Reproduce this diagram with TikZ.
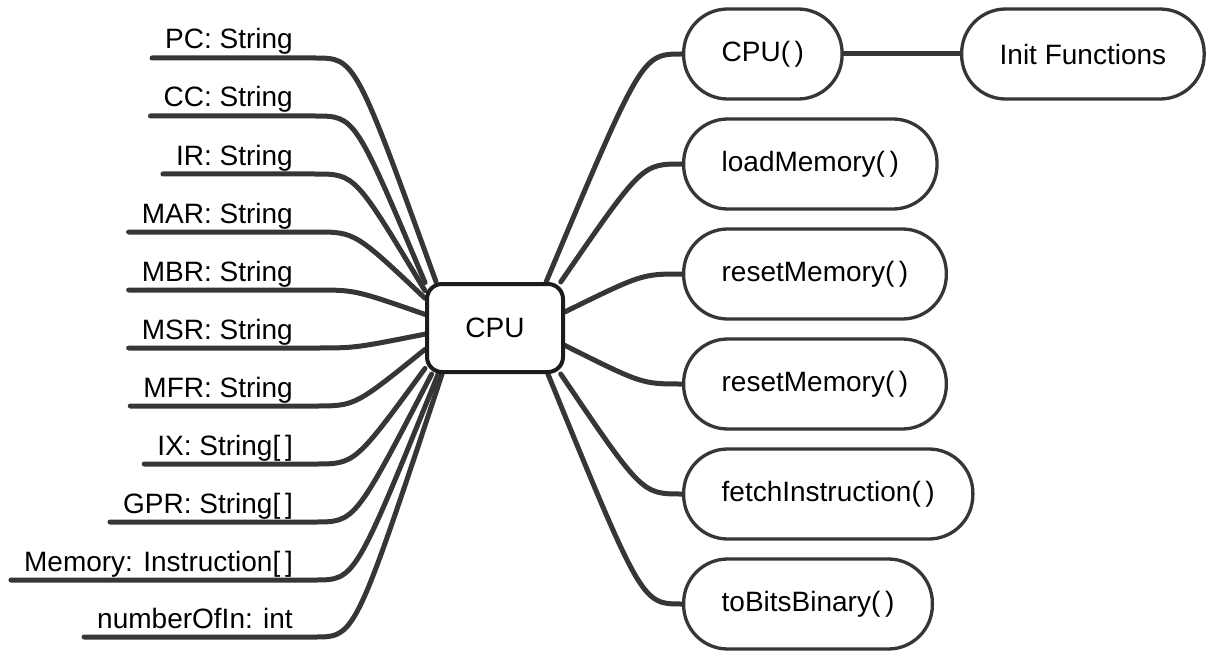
\documentclass[tikz,border=0pt]{standalone}
\usepackage{fontspec}
\setmainfont{Liberation Sans}
\usepackage{tikz}
\usetikzlibrary{positioning,backgrounds}
\usepackage{xcolor}
\definecolor{WireG}{RGB}{54, 54, 54}
\definecolor{EdgeD}{RGB}{28, 28, 28}

\tikzset{
  wire/.style={WireG,line width=5pt,line cap=round},
  leaf/.style={inner sep=0pt,anchor=base east,font=\fontsize{28}{32}\selectfont},
  hub/.style={draw=EdgeD,line width=4pt,fill=white,rounded corners=15pt,
              minimum width=136pt,minimum height=88pt,font=\fontsize{28}{32}\selectfont},
  pill/.style={draw=WireG,line width=3.3pt,fill=white,rounded corners=44pt,
               minimum height=90pt,inner xsep=38pt,anchor=west,font=\fontsize{28}{32}\selectfont}
}

\begin{document}
\begin{tikzpicture}[x=1pt,y=-1pt]
        \useasboundingbox (0,0) rectangle (1216,658);
        \node[hub] (cpu) at (495,328) {CPU};
        % methods
        \node[pill] (ctor)   at (682,54)  {CPU(\,)};
        \node[pill] (init)   at (960,54)  {Init Functions};
        \node[pill] (load)   at (682,164) {loadMemory(\,)};
        \node[pill] (resetA) at (682,274) {resetMemory(\,)};
        \node[pill] (resetB) at (682,384) {resetMemory(\,)};
        \node[pill] (fetch)  at (682,494) {fetchInstruction(\,)};
        \node[pill] (bits)   at (682,604) {toBitsBinary(\,)};
        \begin{scope}[on background layer]
          % fields
          \foreach \nm/\txt/\yy/\ang in {pc/{PC: String}/58/142, cc/{CC: String}/116/147,
              ir/{IR: String}/174/152, mar/{MAR: String}/232/157,
              mbr/{MBR: String}/290/169, msr/{MSR: String}/348/185,
              mfr/{MFR: String}/406/197, ix/{IX: String[\,]}/464/210,
              gpr/{GPR: String[\,]}/522/216, mem/{Memory: Instruction[\,]}/580/219,
              num/{numberOfIn: int}/637/221}{
            \node[leaf] (\nm) at (293,\yy-9) {\txt};
            \draw[wire] ([xshift=-13pt,yshift=-9pt]\nm.base west)
              -- ([xshift=22pt,yshift=-9pt]\nm.base east)
              .. controls +(40,0) .. (cpu.\ang);
          }
          \foreach \dst/\ang in {ctor/42, load/35, resetA/13, resetB/-14, fetch/-35, bits/-41}
            \draw[wire] (cpu.\ang) .. controls ([xshift=-40pt]\dst.west) .. (\dst.west);
          \draw[wire] (ctor) -- (init);
        \end{scope}
\end{tikzpicture}
\end{document}
